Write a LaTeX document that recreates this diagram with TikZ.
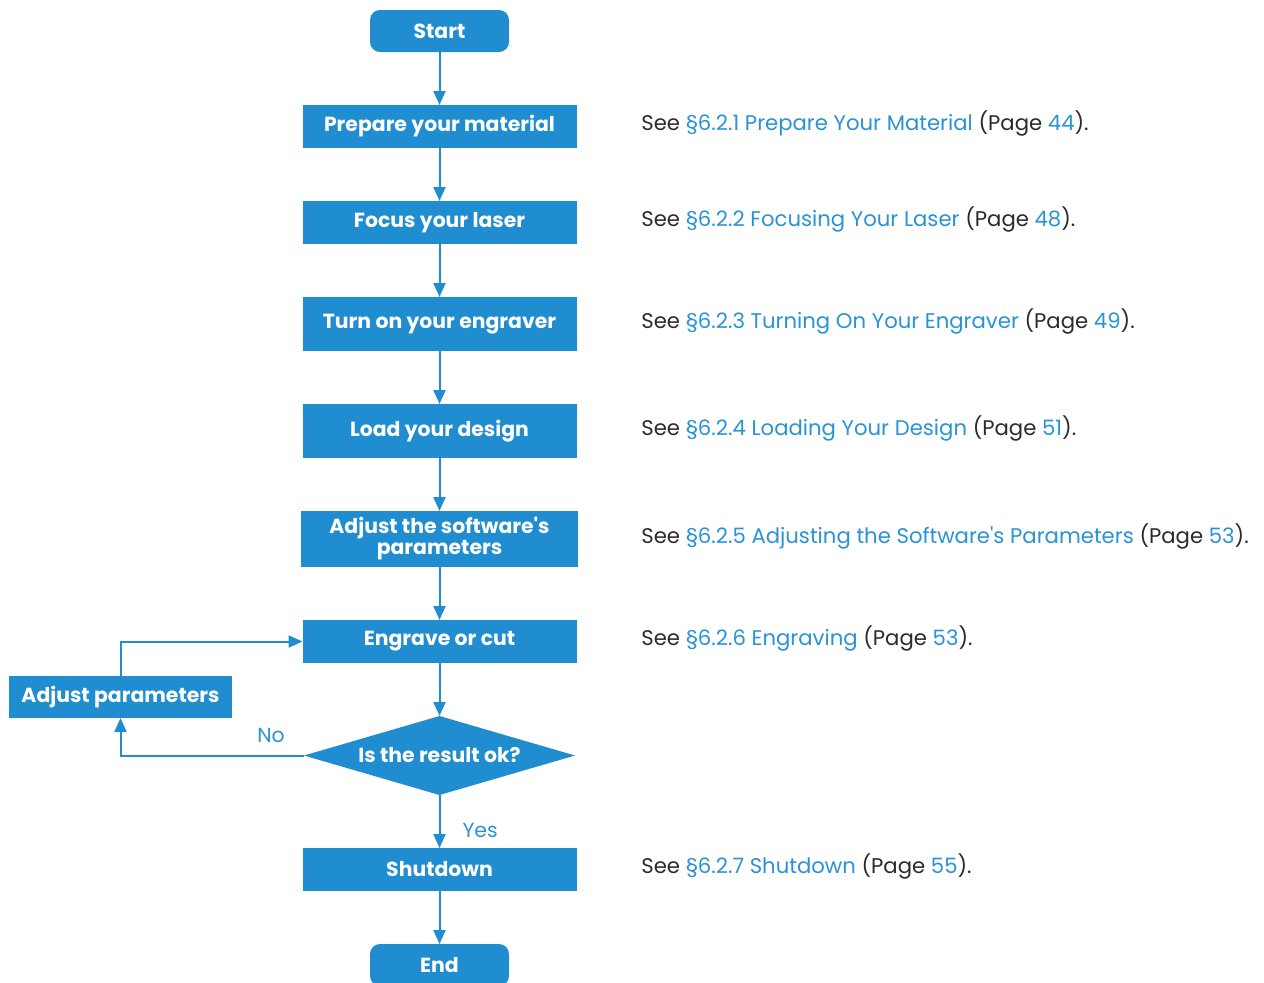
\documentclass[tikz,border=0pt]{standalone}
\usepackage{fontspec}
\setmainfont{Poppins}
\usepackage{xcolor}
\usepackage{tikz}
\usetikzlibrary{shapes,arrows.meta,positioning,calc}
\definecolor{flowblue}{RGB}{31,141,207}
\definecolor{linkblue}{RGB}{42,147,213}
\definecolor{darktext}{RGB}{43,43,43}
\newcommand{\seenote}[3]{See \textcolor{linkblue}{\S#1 #2} (Page \textcolor{linkblue}{#3}).}
\tikzset{
    stepbox/.style={
        rectangle,
        fill=flowblue,
        text=white,
        minimum width=137pt,
        minimum height=21.5pt,
        inner sep=0pt,
        outer sep=0pt,
        align=center,
        font=\fontsize{10.2}{10.5}\selectfont\bfseries
    },
    terminal/.style={
        stepbox,
        rounded corners=5pt,
        minimum width=69.5pt,
        minimum height=21pt
    },
    decision/.style={
        stepbox,
        diamond,
        aspect=3.4,
        minimum width=135.5pt,
        minimum height=39.5pt
    },
    note/.style={
        anchor=west,
        text=darktext,
        inner sep=0pt,
        yshift=1.5pt,
        font=\fontsize{10.6}{11}\selectfont
    },
    flow/.style={
        -{Triangle[length=7pt,width=6pt]},
        draw=flowblue,
        line width=1pt
    },
    answer/.style={
        text=linkblue,
        inner sep=1pt,
        font=\fontsize{10.2}{11}\selectfont
    }
}

\begin{document}
\begin{tikzpicture}[x=0.5pt, y=-0.5pt, node distance=26.5pt]
\useasboundingbox (0,0) rectangle (1264,982);

% main column
\node[terminal] (start) at (439.5,31) {Start};
\node[stepbox, below=of start] (prepare) {Prepare your material};
\node[stepbox, below=of prepare] (focus) {Focus your laser};
\node[stepbox, below=of focus, minimum height=27pt] (turnon) {Turn on your engraver};
\node[stepbox, below=of turnon, minimum height=27pt] (load) {Load your design};
\node[stepbox, below=of load, minimum height=28pt, minimum width=138.5pt] (adjust) {Adjust the software\textquotesingle s\\parameters};
\node[stepbox, below=of adjust] (engrave) {Engrave or cut};
\node[decision, below=of engrave] (check) {Is the result ok?};
\node[stepbox, below=of check] (shutdown) {Shutdown};
\node[terminal, below=of shutdown] (end) {End};

% retry loop
\node[stepbox, minimum width=111.5pt, minimum height=21pt] (adjparam) at (120.5,697) {Adjust parameters};

% arrows
\draw[flow] (start) -- (prepare);
\draw[flow] (prepare) -- (focus);
\draw[flow] (focus) -- (turnon);
\draw[flow] (turnon) -- (load);
\draw[flow] (load) -- (adjust);
\draw[flow] (adjust) -- (engrave);
\draw[flow] (engrave) -- (check);
\draw[flow] (check) -- node[answer, pos=0.66, right=10pt] {Yes} (shutdown);
\draw[flow] (shutdown) -- (end);
\draw[flow] (check.west) -| node[answer, pos=0.09, above=5pt] {No} (adjparam.south);
\draw[flow] (adjparam.north) |- (engrave.west);

% references to the manual
\coordinate (notes) at (641,0);
\node[note] at (prepare -| notes) {\seenote{6.2.1}{Prepare Your Material}{44}};
\node[note] at (focus -| notes) {\seenote{6.2.2}{Focusing Your Laser}{48}};
\node[note] at (turnon -| notes) {\seenote{6.2.3}{Turning On Your Engraver}{49}};
\node[note] at (load -| notes) {\seenote{6.2.4}{Loading Your Design}{51}};
\node[note] at (adjust -| notes) {\seenote{6.2.5}{Adjusting the Software\textquotesingle s Parameters}{53}};
\node[note] at (engrave -| notes) {\seenote{6.2.6}{Engraving}{53}};
\node[note] at (shutdown -| notes) {\seenote{6.2.7}{Shutdown}{55}};
\end{tikzpicture}
\end{document}
